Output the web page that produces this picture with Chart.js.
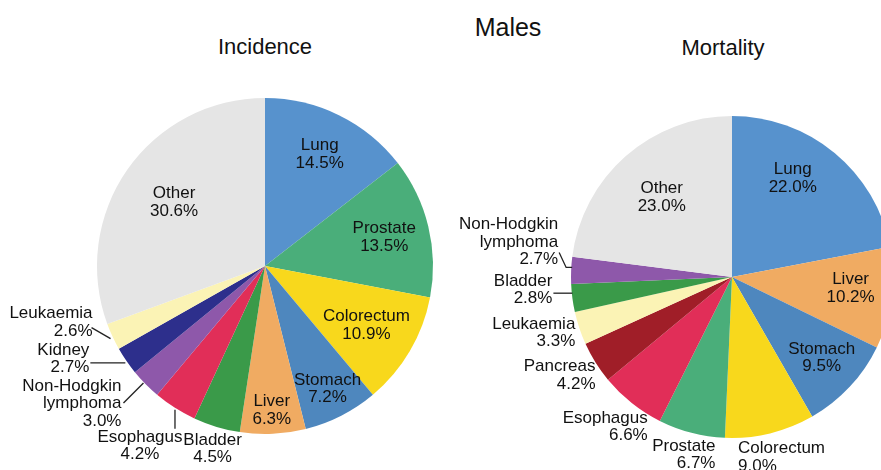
<!DOCTYPE html>
<html>
<head>
<meta charset="utf-8">
<script src="https://cdn.jsdelivr.net/npm/chart.js@4"></script>
<style>
  html, body { margin: 0; padding: 0; background: #fff; overflow: hidden; }
  body { width: 881px; height: 470px; position: relative; font-family: "Liberation Sans", Arial, sans-serif; color: #111; }
  .title { position: absolute; transform: translate(-50%, -50%); white-space: nowrap; }
  canvas { position: absolute; top: 0; }
</style>
</head>
<body>
<div class="title" style="left:508px; top:27px; font-size:25px;">Males</div>
<div class="title" style="left:265px; top:47px; font-size:22px;">Incidence</div>
<div class="title" style="left:723px; top:48px; font-size:22px;">Mortality</div>
<canvas id="incidence" width="440" height="470" style="left:0"></canvas>
<canvas id="mortality" width="560" height="470" style="left:440px"></canvas>
<script>
// incidence, males
const incCategories = ['Lung', 'Prostate', 'Colorectum', 'Stomach', 'Liver', 'Bladder', 'Esophagus', 'Non-Hodgkin lymphoma', 'Kidney', 'Leukaemia', 'Other'];
const incValues = [14.5, 13.5, 10.9, 7.2, 6.3, 4.5, 4.2, 3.0, 2.7, 2.6, 30.6];
const incColors = ['#5792cd', '#4aae7a', '#f8d81c', '#4e87be', '#f0ab62', '#3a9a49', '#e12e58', '#8e58aa', '#2d2f8c', '#fbf3b5', '#e5e5e5'];

// mortality, males
const morCategories = ['Lung', 'Liver', 'Stomach', 'Colorectum', 'Prostate', 'Esophagus', 'Pancreas', 'Leukaemia', 'Bladder', 'Non-Hodgkin lymphoma', 'Other'];
const morValues = [22.0, 10.2, 9.5, 9.0, 6.7, 6.6, 4.2, 3.3, 2.8, 2.7, 23.0];
const morColors = ['#5792cd', '#f0ab62', '#4e87be', '#f8d81c', '#4aae7a', '#e12e58', '#a01e28', '#fbf3b5', '#3a9a49', '#8e58aa', '#e5e5e5'];

// label placement: f = radius fraction for inside labels,
// out = offset from the slice edge for outside labels, leader = line points from the edge
const incLayout = [
  { f: 0.74 },
  { f: 0.73 },
  { f: 0.70 },
  { f: 0.82 },
  { f: 0.86 },
  { out: [-4, 13], align: 'center' },
  { out: [-35, 29], align: 'center', leader: [[0, 2], [0, 21]] },
  { out: [-24, 2], align: 'right', split: true, leader: [[-2, -1], [-22, 19]] },
  { out: [-37, -11], align: 'right', leader: [[-1, 2], [-36, 2]] },
  { out: [-20, -23], align: 'right', leader: [[-2, 2], [-21, -9]] },
  { f: 0.66 }
];
const morLayout = [
  { f: 0.72, da: -8 },
  { f: 0.74, da: -2 },
  { f: 0.75, da: -1 },
  { out: [-32, 15], align: 'left' },
  { out: [24, 13], align: 'right' },
  { out: [16, 15], align: 'right' },
  { out: [0, 4], align: 'right' },
  { out: [-4, -4], align: 'right' },
  { out: [-20, -17], align: 'right', leader: [[0, -5], [-19, -5]] },
  { out: [-13, -46], align: 'right', split: true, leader: [[1, -3], [-5, -3], [-12, -18]] },
  { f: 0.66 }
];

const LH = 17.5;

const sliceLabels = {
  id: 'sliceLabels',
  afterDatasetsDraw(chart, args, opts) {
    const ctx = chart.ctx;
    const meta = chart.getDatasetMeta(0);
    const names = chart.data.labels;
    const vals = chart.data.datasets[0].data;
    ctx.save();
    ctx.font = '17px "Liberation Sans", Arial, sans-serif';
    ctx.fillStyle = '#111';
    ctx.strokeStyle = '#222';
    ctx.lineWidth = 1.3;
    meta.data.forEach((arc, i) => {
      const p = arc.getProps(['x', 'y', 'startAngle', 'endAngle', 'outerRadius'], true);
      const L = opts.layout[i];
      const mid = (p.startAngle + p.endAngle) / 2 + (L.da || 0) * Math.PI / 180;
      const lines = (L.split ? names[i].split(' ') : [names[i]]).concat(vals[i].toFixed(1) + '%');
      let tx, ty, align = 'center';
      if (L.out) {
        const ex = p.x + p.outerRadius * Math.cos(mid);
        const ey = p.y + p.outerRadius * Math.sin(mid);
        if (L.leader) {
          ctx.beginPath();
          L.leader.forEach((q, k) => {
            if (k) ctx.lineTo(ex + q[0], ey + q[1]);
            else ctx.moveTo(ex + q[0], ey + q[1]);
          });
          ctx.stroke();
        }
        tx = ex + L.out[0];
        ty = ey + L.out[1];
        align = L.align;
      } else {
        tx = p.x + p.outerRadius * L.f * Math.cos(mid);
        ty = p.y + p.outerRadius * L.f * Math.sin(mid) - (lines.length - 1) * LH / 2;
      }
      ctx.textAlign = align;
      ctx.textBaseline = 'middle';
      lines.forEach((s, k) => ctx.fillText(s, tx, ty + k * LH));
    });
    ctx.restore();
  }
};

function makePie(id, categories, values, colors, layout, padding) {
  return new Chart(document.getElementById(id), {
    type: 'pie',
    data: {
      labels: categories,
      datasets: [{
        data: values,
        backgroundColor: colors,
        borderWidth: 0,
        hoverOffset: 0,
        offset: 0
      }]
    },
    options: {
      responsive: false,
      animation: false,
      events: [],
      layout: { padding: padding },
      plugins: {
        legend: { display: false },
        title: { display: false },
        tooltip: { enabled: false },
        sliceLabels: { layout: layout }
      }
    },
    plugins: [sliceLabels]
  });
}

makePie('incidence', incCategories, incValues, incColors, incLayout, { left: 97, right: 7, top: 98, bottom: 36 });
makePie('mortality', morCategories, morValues, morColors, morLayout, { left: 131, right: 107, top: 116, bottom: 32 });
</script>
</body>
</html>
